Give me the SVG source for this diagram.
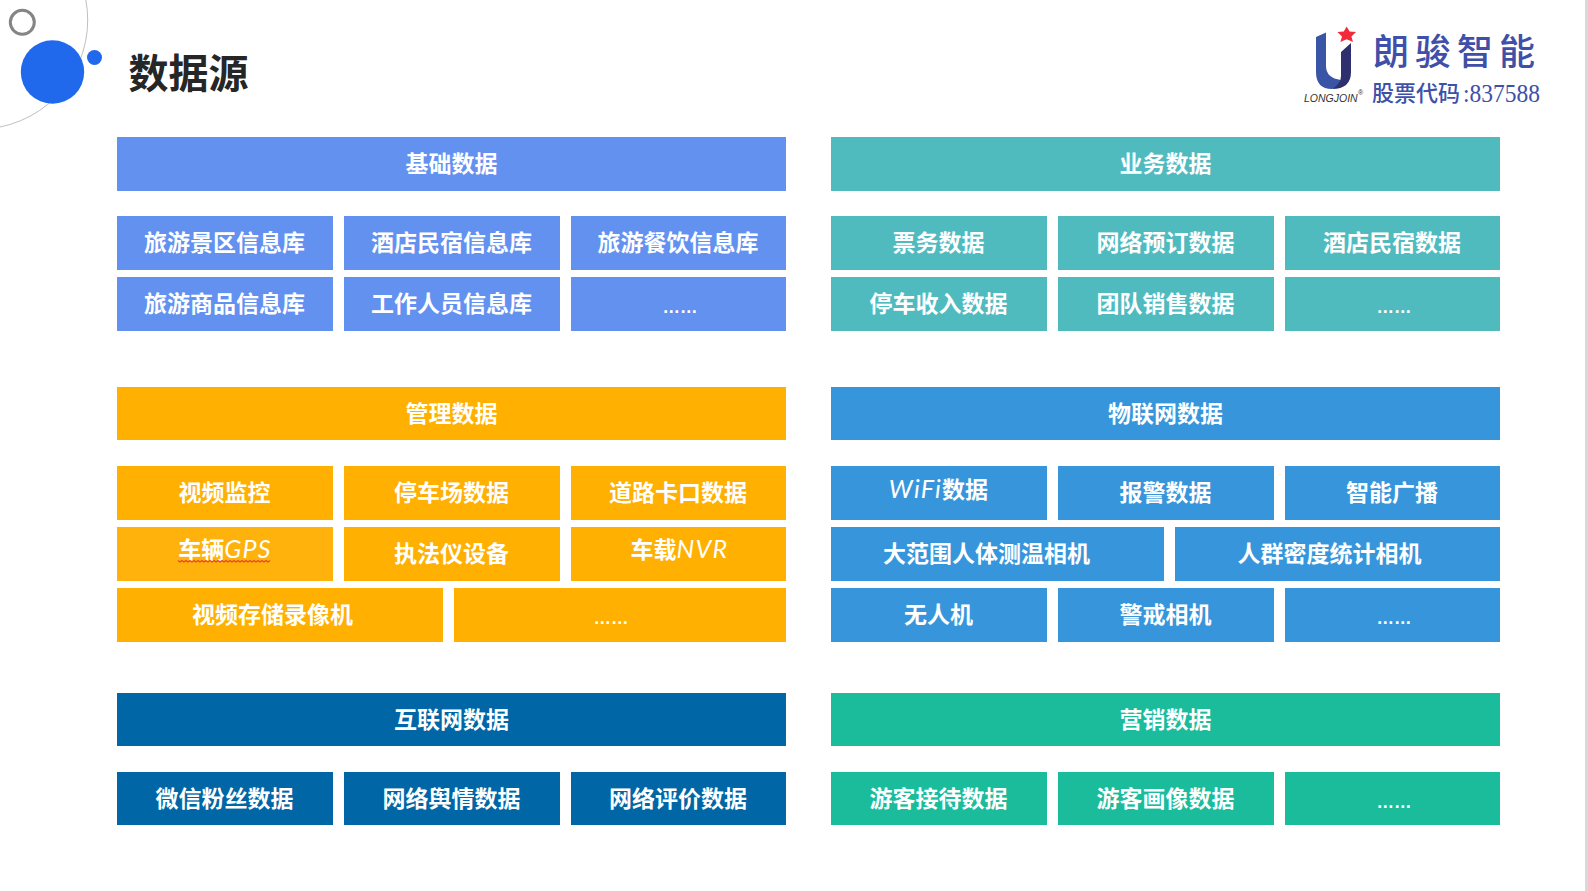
<svg xmlns="http://www.w3.org/2000/svg" width="1588" height="891" viewBox="0 0 1588 891">
<style>
text{font-family:"Noto Sans CJK SC","Liberation Sans",sans-serif}
.t{font-size:23px;font-weight:700;fill:#fff;text-anchor:middle;transform:translate(-.6px,0)}
.i{font-family:"Lato","Liberation Sans",sans-serif;font-style:italic;font-weight:400;font-size:25px;letter-spacing:1.2px}
.d{font-family:"Liberation Sans",sans-serif;font-size:17.500px;font-weight:700;fill:#fff;text-anchor:middle}
.a rect{fill:#6391F0}.b rect{fill:#50BBBF}.c rect{fill:#FFB000}.e rect{fill:#3796DB}.f rect{fill:#0066A5}.g rect{fill:#1ABC9C}
</style>
<rect width="1588" height="891" fill="#fff"/>
<rect x="1585" y="0" width="3" height="891" fill="#d9d9d9"/>
<g id="decor">
<circle cx="-21.4" cy="20" r="109.1" fill="none" stroke="#bfbfbf" stroke-width="1"/>
<circle cx="22.3" cy="22.3" r="12" fill="none" stroke="#858585" stroke-width="3"/>
<circle cx="52.500" cy="72" r="31.7" fill="#2068EC"/>
<circle cx="94.500" cy="57.500" r="7.500" fill="#2068EC"/>
</g>
<text id="title" x="128.500" y="88" font-size="40" font-weight="700" fill="#262626">数据源</text>
<g id="logo">
<path d="M1316 37L1326 32.500V66Q1326 78 1341 80Q1341 85 1332 89Q1316 89 1316 72Z" fill="#3A55A6"/>
<path d="M1341 52L1351 43V72Q1351 89 1332 89Q1341 84 1341 76Z" fill="#2E2F6E"/>
<path d="M1346.7 26.500L1349.6 31.6L1356 32L1351.4 36.4L1353 42L1346.7 39.3L1340.4 42L1342 36.4L1337.4 32L1343.8 31.6Z" fill="#F22B3B"/>
<text x="1304" y="102" font-size="10.500" font-style="italic" fill="#333" style="font-family:'Liberation Sans',sans-serif">LONGJOIN</text>
<text x="1358" y="95" font-size="7" fill="#333" style="font-family:'Liberation Sans',sans-serif">®</text>
<text x="1373" y="65" font-size="36" letter-spacing="6" font-weight="500" fill="#4050A8">朗骏智能</text>
<text x="1372" y="101" font-size="22" font-weight="500" fill="#4050A8">股票代码</text>
<text x="1463" y="102" font-size="25" textLength="77" lengthAdjust="spacingAndGlyphs" fill="#4050A8" style="font-family:'Liberation Serif',serif">:837588</text>
</g>
<g id="basic" class="a">
<rect x="117" y="137" width="669" height="54"/><text class="t" x="452" y="172">基础数据</text>
<rect x="117" y="216" width="216" height="54"/><text class="t" x="225" y="251">旅游景区信息库</text>
<rect x="344" y="216" width="216" height="54"/><text class="t" x="452" y="251">酒店民宿信息库</text>
<rect x="571" y="216" width="215" height="54"/><text class="t" x="678.500" y="251">旅游餐饮信息库</text>
<rect x="117" y="277" width="216" height="54"/><text class="t" x="225" y="312">旅游商品信息库</text>
<rect x="344" y="277" width="216" height="54"/><text class="t" x="452" y="312">工作人员信息库</text>
<rect x="571" y="277" width="215" height="54"/><text class="d" x="680" y="313">……</text>
</g>
<g id="business" class="b">
<rect x="831" y="137" width="669" height="54"/><text class="t" x="1166" y="172">业务数据</text>
<rect x="831" y="216" width="216" height="54"/><text class="t" x="939" y="251">票务数据</text>
<rect x="1058" y="216" width="216" height="54"/><text class="t" x="1166" y="251">网络预订数据</text>
<rect x="1285" y="216" width="215" height="54"/><text class="t" x="1392.500" y="251">酒店民宿数据</text>
<rect x="831" y="277" width="216" height="54"/><text class="t" x="939" y="312">停车收入数据</text>
<rect x="1058" y="277" width="216" height="54"/><text class="t" x="1166" y="312">团队销售数据</text>
<rect x="1285" y="277" width="215" height="54"/><text class="d" x="1394" y="313">……</text>
</g>
<g id="management" class="c">
<rect x="117" y="387" width="669" height="53"/><text class="t" x="452" y="422">管理数据</text>
<rect x="117" y="466" width="216" height="54"/><text class="t" x="225" y="501">视频监控</text>
<rect x="344" y="466" width="216" height="54"/><text class="t" x="452" y="501">停车场数据</text>
<rect x="571" y="466" width="215" height="54"/><text class="t" x="678.500" y="501">道路卡口数据</text>
<rect x="117" y="527" width="216" height="54" style="fill:#FFB10C"/><text class="t" x="225.500" y="558">车辆<tspan class="i">GPS</tspan></text>
<path d="M178 560.500l2 1.500l2-1.500l2 1.500l2-1.500l2 1.500l2-1.500l2 1.500l2-1.500l2 1.500l2-1.500l2 1.500l2-1.500l2 1.500l2-1.500l2 1.500l2-1.500l2 1.500l2-1.500l2 1.500l2-1.500l2 1.500l2-1.500l2 1.500l2-1.500l2 1.500l2-1.500l2 1.500l2-1.500l2 1.500l2-1.500l2 1.500l2-1.500l2 1.500l2-1.500l2 1.500l2-1.500l2 1.500l2-1.500l2 1.500l2-1.500l2 1.500l2-1.500l2 1.500l2-1.500l2 1.500l2-1.500" fill="none" stroke="#E8452E" stroke-width="1.2"/>
<rect x="344" y="527" width="216" height="54"/><text class="t" x="452" y="562">执法仪设备</text>
<rect x="571" y="527" width="215" height="54"/><text class="t" x="680" y="558">车载<tspan class="i">NVR</tspan></text>
<rect x="117" y="588" width="326" height="54"/><text class="t" x="273" y="623">视频存储录像机</text>
<rect x="454" y="588" width="332" height="54"/><text class="d" x="611" y="624">……</text>
</g>
<g id="iot" class="e">
<rect x="831" y="387" width="669" height="53"/><text class="t" x="1166" y="422">物联网数据</text>
<rect x="831" y="466" width="216" height="54"/><text class="t" x="939" y="497.500"><tspan class="i">WiFi</tspan>数据</text>
<rect x="1058" y="466" width="216" height="54"/><text class="t" x="1166" y="501">报警数据</text>
<rect x="1285" y="466" width="215" height="54"/><text class="t" x="1392.500" y="501">智能广播</text>
<rect x="831" y="527" width="333" height="54"/><text class="t" x="987" y="562">大范围人体测温相机</text>
<rect x="1175" y="527" width="325" height="54"/><text class="t" x="1330" y="562">人群密度统计相机</text>
<rect x="831" y="588" width="216" height="54"/><text class="t" x="939" y="623">无人机</text>
<rect x="1058" y="588" width="216" height="54"/><text class="t" x="1166" y="623">警戒相机</text>
<rect x="1285" y="588" width="215" height="54"/><text class="d" x="1394" y="624">……</text>
</g>
<g id="internet" class="f">
<rect x="117" y="693" width="669" height="53"/><text class="t" x="452" y="728">互联网数据</text>
<rect x="117" y="772" width="216" height="53"/><text class="t" x="225" y="807">微信粉丝数据</text>
<rect x="344" y="772" width="216" height="53"/><text class="t" x="452" y="807">网络舆情数据</text>
<rect x="571" y="772" width="215" height="53"/><text class="t" x="678.500" y="807">网络评价数据</text>
</g>
<g id="marketing" class="g">
<rect x="831" y="693" width="669" height="53"/><text class="t" x="1166" y="728">营销数据</text>
<rect x="831" y="772" width="216" height="53"/><text class="t" x="939" y="807">游客接待数据</text>
<rect x="1058" y="772" width="216" height="53"/><text class="t" x="1166" y="807">游客画像数据</text>
<rect x="1285" y="772" width="215" height="53"/><text class="d" x="1394" y="808">……</text>
</g>
</svg>
